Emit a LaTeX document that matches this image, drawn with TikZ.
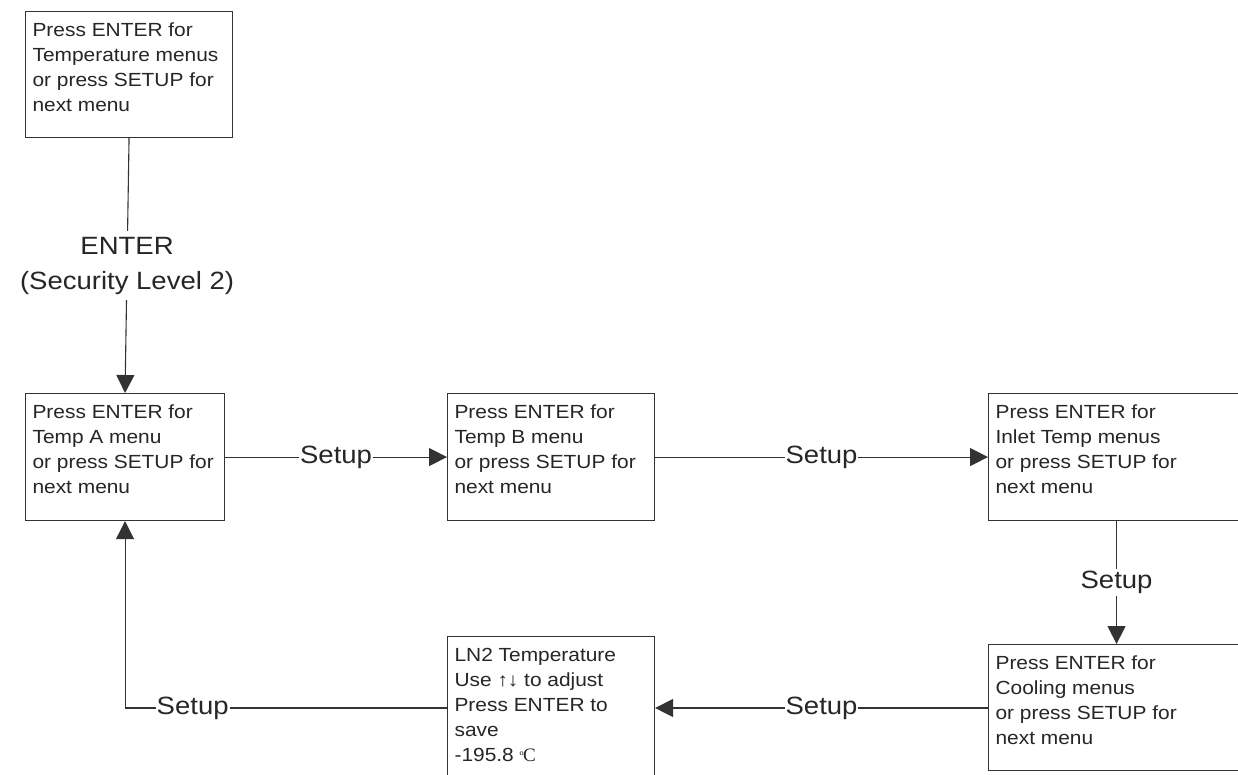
\documentclass[tikz,border=0pt]{standalone}
\usepackage{fontspec}
\setmainfont{Liberation Sans}
\newfontfamily\boxfont[FakeStretch=1.1]{Liberation Sans}
\newfontfamily\lblfont[FakeStretch=1.1]{Liberation Sans}
\newfontfamily\degfont{Liberation Serif}
\usetikzlibrary{arrows.meta}
\newcommand\mtxt[3]{\parbox[t][#2][t]{#1}{\boxfont\fontsize{19}{25}\selectfont\color{black!85}\rule{0pt}{25pt}#3}}
\tikzset{
  mbox/.style={draw=black!80, line width=1.1pt, anchor=north west, inner xsep=7pt, inner ysep=0pt, fill=white},
  conn/.style={draw=black!80, line width=1.1pt},
  arr/.style={conn, -{Triangle[length=18pt, width=18pt]}},
  lbl/.style={fill=white, inner xsep=1pt, inner ysep=2pt, text=black!85, font=\lblfont\fontsize{25}{35}\selectfont}
}
\begin{document}
\begin{tikzpicture}[x=1pt,y=-1pt]
\useasboundingbox (0,0) rectangle (1238,774);
\clip (0,0) rectangle (1238,774);
\fill[white] (0,0) rectangle (1238,774);
% boxes
\node[mbox] (top) at (25,11) {\mtxt{193pt}{126pt}{Press ENTER for\\Temperature menus\\or press SETUP for\\next menu}};
\node[mbox] (A) at (25,393) {\mtxt{185pt}{127pt}{Press ENTER for\\Temp A menu\\or press SETUP for\\next menu}};
\node[mbox] (B) at (447,393) {\mtxt{193pt}{127pt}{Press ENTER for\\Temp B menu\\or press SETUP for\\next menu}};
\node[mbox] (inlet) at (988,393) {\mtxt{242pt}{127pt}{Press ENTER for\\Inlet Temp menus\\or press SETUP for\\next menu}};
\node[mbox] (cool) at (988,644) {\mtxt{242pt}{126pt}{Press ENTER for\\Cooling menus\\or press SETUP for\\next menu}};
\node[mbox] (ln2) at (447,636) {\mtxt{193pt}{160pt}{LN2 Temperature\\Use ↑↓ to adjust\\Press ENTER to\\save\\-195.8 {\degfont\fontsize{19}{19}\selectfont\raisebox{1pt}{\fontsize{13}{13}\selectfont º}\kern-0.5pt C}}};
% connectors
\draw[arr] (top.south) -- node[lbl, align=center, inner ysep=6pt] (enterlbl) {ENTER\\(Security Level 2)} (A.north);
\draw[arr] (A.east) -- node[lbl] (s1) {Setup} (B.west);
\draw[arr] (B.east) -- node[lbl] (s2) {Setup} (inlet.west);
\draw[arr] (inlet.south) -- node[lbl] (s3) {Setup} (cool.north);
\coordinate (c0) at (cool.west |- 0,708);
\coordinate (c1) at (ln2.west |- c0);
\draw[arr] (c0) -- node[lbl] (s4) {Setup} (ln2.east |- c0);
\coordinate (c2) at (A.south |- c0);
\draw[conn] (c1) -- node[lbl, pos=0.79] (s5) {Setup} (c2);
\draw[arr] (c2) -- (A.south);
\end{tikzpicture}
\end{document}
